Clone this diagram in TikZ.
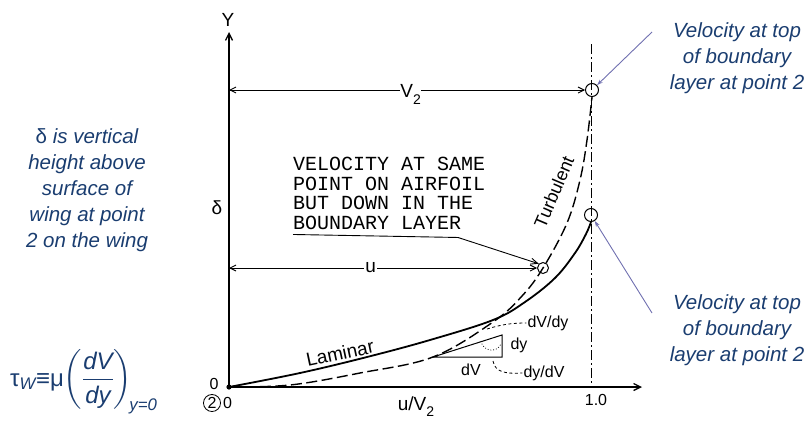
\documentclass[tikz,border=0pt]{standalone}
\usepackage{amsmath}
\usepackage{fontspec}
\setmainfont{Liberation Sans}
\newfontfamily\leroy{Liberation Mono}
\usetikzlibrary{arrows.meta,positioning,calc}
\definecolor{noteblue}{RGB}{26,61,112}
\definecolor{pointer}{RGB}{112,112,176}
\newcommand{\lowsub}[2]{\raisebox{#1}{\fontsize{14}{14}\selectfont #2}}

\begin{document}
\begin{tikzpicture}[x=1pt, y=-1pt,
  axisline/.style={line width=1.3pt, -{Straight Barb[length=7pt, width=7pt]}},
  dimline/.style={line width=0.9pt, {Straight Barb[length=6pt, width=6pt]}-{Straight Barb[length=6pt, width=6pt]}},
  ptcircle/.style={circle, draw, line width=1pt, minimum size=13pt, inner sep=0pt},
  hand/.style={font=\fontsize{19}{21}\selectfont, inner sep=1pt},
  small/.style={font=\fontsize{16}{18}\selectfont, inner sep=1pt},
  lettering/.style={font=\leroy\fontsize{20}{19.5}\selectfont, align=left, inner sep=0pt},
  note/.style={font=\fontsize{20.5}{26}\selectfont\itshape, text=noteblue, align=center, inner sep=0pt},
  pointerarr/.style={pointer, line width=0.9pt, -{Stealth[length=6pt, width=4pt]}},
  laminar/.style={line width=1.8pt},
  turbulent/.style={line width=1.4pt, dash pattern=on 11pt off 4.5pt},
  leader/.style={line width=0.8pt, dash pattern=on 3pt off 2.5pt},
]
\useasboundingbox (0,0) rectangle (810,423);

% axes
\coordinate (o) at (229,387);
\coordinate (ytop) at (229,32);
\coordinate (xend) at (642,387);
\coordinate (ctrtop) at (591,44);
\draw[axisline] (o) -- (ytop);
\draw[axisline] (o) -- (xend);
\fill (o) circle (2.6pt);
\draw[line width=1pt, dash pattern=on 10pt off 3pt on 2pt off 3pt] (ctrtop) -- (ctrtop |- o);

\node[hand] (ylbl) at (228,20) {Y};
\node[hand] (delta) at (217,208) {δ};
\node[small] (zero) at (214,384) {0};
\node[circle, draw, line width=0.8pt, inner sep=0pt, minimum size=15pt, small] (pt2) at (212,403) {2};
\node[small, right=1pt of pt2] (zerox) {0};
\node[small] (one) at (596,400) {1.0};
\node[hand] (xlbl) at (416,407) {u/V\lowsub{-6pt}{2}};

% points on the profiles
\node[ptcircle] (ctop) at (592,90) {};
\node[ptcircle] (clam) at (591,215) {};
\node[ptcircle, minimum size=11pt] (cu) at (543,268) {};

\draw[laminar] plot[smooth, tension=0.6] coordinates {(o) (300,373) (367,357) (430,340) (493,320) (525,302) (555,278) (575,253) (586,234) (clam.south)};
\draw[turbulent] plot[smooth, tension=0.6] coordinates {(o) (290,385) (360,373) (433,357) (493,322) (522,296) (cu) (567,223) (580,180) (587,140) (ctop.south)};

\node[hand, rotate=12] (lam) at (340,353) {Laminar};
\node[font=\fontsize{18}{20}\selectfont, inner sep=0pt, rotate=67] (turb) at (554,192) {Turbulent};

% V2 and u
\draw[dimline] (o |- ctop) -- (ctop.west)
  node[pos=0.51, fill=white, hand, inner sep=0pt, yshift=-4pt] (v2) {V\lowsub{-7pt}{2}};
\draw[dimline] (o |- cu) -- (cu.west)
  node[pos=0.46, fill=white, hand, inner sep=1pt] (u) {u};

\node[lettering, anchor=north west] (vtext) at (293,157) {VELOCITY AT SAME\\POINT ON AIRFOIL\\BUT DOWN IN THE\\BOUNDARY LAYER};
\draw[line width=0.9pt, -{Straight Barb[length=7pt, width=6pt]}]
  ([yshift=-5pt]vtext.south west) -- ++(165,3) -- (cu.north west);

% slope triangle
\coordinate (ta) at (433,357);
\coordinate (tb) at (502,357);
\coordinate (tc) at (502,335);
\draw[line width=1pt] (ta) -- (tb) -- (tc) -- cycle;
\draw[line width=0.8pt, dotted] (481,341) .. controls (483,352) and (497,353) .. (501,344);
\node[small] (dy) at (519,345) {dy};
\node[small] (dv) at (471,370) {dV};
\node[small] (dvdy) at (548,323) {dV/dy};
\node[small] (dydv) at (544,373) {dy/dV};
\draw[leader] (487,329) .. controls (500,325) and (510,323) .. (dvdy.west);
\draw[leader] (493,361) .. controls (495,372) and (505,374) .. (dydv.west);

% notes
\node[note] (lnote) at (87,190) {{\upshape δ} is vertical\\height above\\surface of\\wing at point\\2 on the wing};
\node[note] (tnote) at (737,58) {Velocity at top\\of boundary\\layer at point 2};
\node[note] (bnote) at (737,330) {Velocity at top\\of boundary\\layer at point 2};
\coordinate (ttail) at (652,32);
\coordinate (btail) at (652,313);
\draw[pointerarr] (ttail) -- (ctop);
\draw[pointerarr] (btail) -- (clam);

\node[note, font=\fontsize{24}{28}\selectfont\itshape, anchor=west] (tau) at (10,382)
  {{\upshape τ}\textsubscript{W}{\upshape ≡μ}$\left(\dfrac{\textit{dV}}{\textit{dy}}\right)_{\!\textit{y=0}}$};
\end{tikzpicture}
\end{document}
